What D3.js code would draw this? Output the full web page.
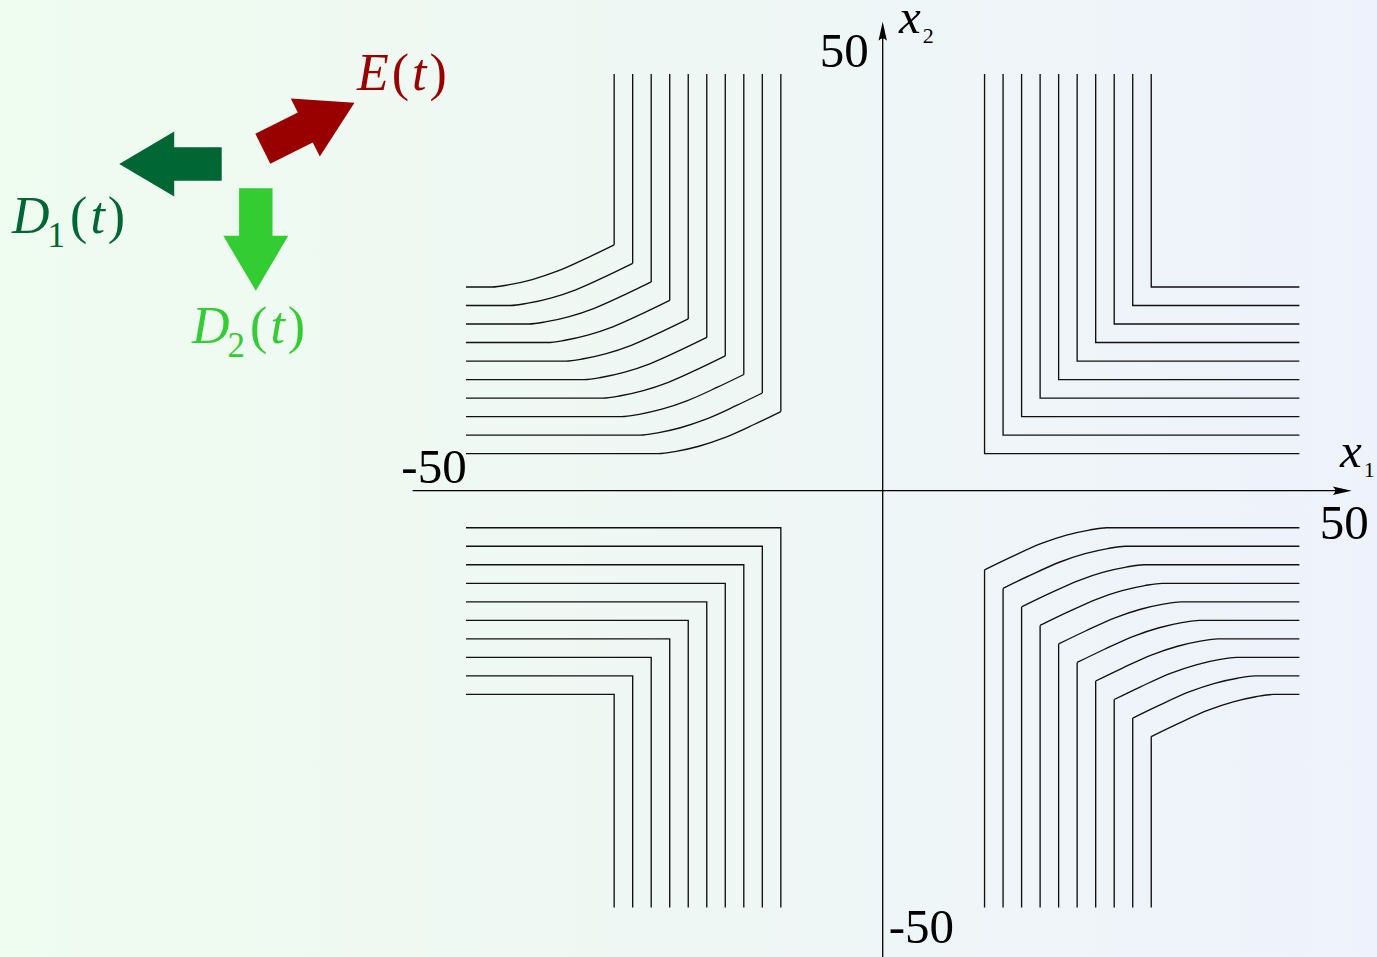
<!DOCTYPE html>
<html>
<head>
<meta charset="utf-8">
<script src="https://cdn.jsdelivr.net/npm/d3@7"></script>
<style>
  html, body { margin: 0; padding: 0; background: #eff7f4; }
  svg { display: block; }
  text { font-family: "Liberation Serif", "Times New Roman", serif; }
</style>
</head>
<body>
<svg id="chart" width="1377" height="957"></svg>
<script>
// Level-set contours: vertical branch |x1| = xLevels[i] paired with horizontal branch |x2| = yLevels[i]
const xLevels = [11, 13, 15, 17, 19, 21, 23, 25, 27, 29];
const yLevels = [4, 6, 8, 10, 12, 14, 16, 18, 20, 22];
const contourReach = 45;          // contours run out to |x| = 45
// Rounded bend profile (offset along the horizontal branch, offset along the vertical branch)
const bendU = [0, 2.9, 6.15, 8.85, 11.3, 13.2];
const bendV = [4.55, 3.15, 1.7, 0.8, 0.25, 0];
// Quadrant signs and whether the corner is rounded
const quadSignX = [1, -1, -1, 1];
const quadSignY = [1, 1, -1, -1];
const quadRounded = [false, true, false, true];
// Axis tick labels
const tickValues = [-50, 50];
const tickText = ["-50", "50"];
// Direction arrows: name, colour, heading in degrees (screen coordinates)
const arrowNames = ["D1", "D2", "E"];
const arrowColors = ["#006633", "#33cc33", "#990000"];
const arrowHeadings = [180, 90, -26.565];

const W = 1377, H = 957;
const cx = 882.7, cy = 490.7, half = 463;

const svg = d3.select("#chart");

// background wash
const defs = svg.append("defs");
const grad = defs.append("linearGradient").attr("id", "bg")
  .attr("x1", "0%").attr("x2", "100%").attr("y1", "0%").attr("y2", "0%");
grad.append("stop").attr("offset", "0%").attr("stop-color", "#effcf0");
grad.append("stop").attr("offset", "50%").attr("stop-color", "#eff7f4");
grad.append("stop").attr("offset", "100%").attr("stop-color", "#eef2fc");
svg.append("rect").attr("width", W).attr("height", H).attr("fill", "url(#bg)");

const x = d3.scaleLinear().domain([-50, 50]).range([cx - half, cx + half]);
const y = d3.scaleLinear().domain([-50, 50]).range([cy + half, cy - half]);

const straight = d3.line().x(d => x(d[0])).y(d => y(d[1]));
const smooth = d3.line().x(d => x(d[0])).y(d => y(d[1])).curve(d3.curveMonotoneX);

// contours
const gC = svg.append("g").attr("fill", "none").attr("stroke", "#111")
  .attr("stroke-width", 1.35).attr("stroke-linejoin", "miter");

for (let q = 0; q < 4; q++) {
  const sx = quadSignX[q], sy = quadSignY[q];
  xLevels.forEach((xv, i) => {
    const yv = yLevels[i];
    let d;
    if (!quadRounded[q]) {
      d = straight([[sx * xv, sy * contourReach], [sx * xv, sy * yv], [sx * contourReach, sy * yv]]);
    } else {
      const bend = bendU.map((u, k) => [sx * (xv + u), sy * (yv + bendV[k])]);
      const pts = bend.concat([[sx * contourReach, sy * yv]]).sort((a, b) => a[0] - b[0]);
      const vert = [[sx * xv, sy * contourReach], [sx * xv, sy * (yv + bendV[0])]];
      d = smooth(pts) + straight(vert);
    }
    gC.append("path").attr("d", d);
  });
}

// axes with arrow tips
const gA = svg.append("g");
const axLo = -50.76, axHi = 50.65;
gA.append("path").attr("d", straight([[axLo, 0], [axHi - 1, 0]]))
  .attr("stroke", "#000").attr("stroke-width", 1.3);
gA.append("path").attr("d", straight([[0, -52], [0, axHi - 1]]))
  .attr("stroke", "#000").attr("stroke-width", 1.3);

function tip(px, py, ang) {
  const g = gA.append("g").attr("transform", `translate(${px},${py}) rotate(${ang})`);
  g.append("path").attr("d", "M0,0 L-19,-4.2 Q-14,0 -19,4.2 Z").attr("fill", "#000");
}
tip(x(axHi), y(0), 0);
tip(x(0), y(axHi), -90);

// tick labels at the axis ends
const tickFont = 49;
gA.append("text").attr("x", x(tickValues[0]) + 47).attr("y", y(0) - 8)
  .attr("text-anchor", "end").attr("font-size", tickFont).text(tickText[0]);
gA.append("text").attr("x", x(tickValues[1]) - 26).attr("y", y(0) + 48)
  .attr("text-anchor", "start").attr("font-size", tickFont).text(tickText[1]);
gA.append("text").attr("x", x(0) - 14).attr("y", y(tickValues[1]) + 39)
  .attr("text-anchor", "end").attr("font-size", tickFont).text(tickText[1]);
gA.append("text").attr("x", x(0) + 6).attr("y", y(tickValues[0]) - 11)
  .attr("text-anchor", "start").attr("font-size", tickFont).text(tickText[0]);

// axis names
function axisName(px, py, sub) {
  const t = gA.append("text").attr("x", px).attr("y", py).attr("font-size", 49).attr("fill", "#000");
  t.append("tspan").attr("font-style", "italic").text("x");
  t.append("tspan").attr("font-size", 22).attr("dx", 2).attr("dy", 10).text(sub);
}
axisName(899, 33, "2");
axisName(1340, 467, "1");

// direction arrows and their labels
const arrowTails = { D1: [221.7, 164], D2: [255.8, 188.3], E: [262.8, 148.7] };
const arrowShape = "M0,-16.7 L47.5,-16.7 L47.5,-32.5 L102.5,0 L47.5,32.5 L47.5,16.7 L0,16.7 Z";
const gL = svg.append("g");
arrowNames.forEach((n, i) => {
  const [tx, ty] = arrowTails[n];
  gL.append("path").attr("d", arrowShape)
    .attr("transform", `translate(${tx},${ty}) rotate(${arrowHeadings[i]})`)
    .attr("fill", arrowColors[i]);
});

function fnLabel(px, py, letter, sub, color) {
  const size = 52;
  const t = gL.append("text").attr("x", px).attr("y", py).attr("font-size", size).attr("fill", color);
  t.append("tspan").attr("font-style", "italic").text(letter);
  if (sub) {
    t.append("tspan").attr("font-size", 35).attr("dx", -2).attr("dy", 14).text(sub);
    t.append("tspan").attr("dx", 5).attr("dy", -14).text("(");
  } else {
    t.append("tspan").attr("dx", 3).text("(");
  }
  t.append("tspan").attr("font-style", "italic").attr("dx", 3).text("t");
  t.append("tspan").attr("dx", 3).text(")");
}
fnLabel(12, 233, "D", "1", arrowColors[0]);
fnLabel(192, 343, "D", "2", arrowColors[1]);
fnLabel(357, 90, "E", null, arrowColors[2]);
</script>
</body>
</html>
